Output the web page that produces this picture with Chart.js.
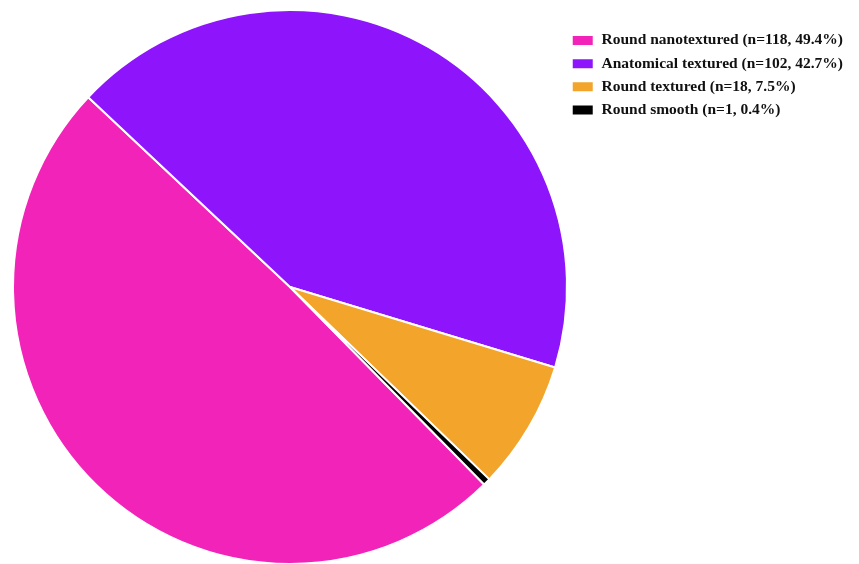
<!DOCTYPE html>
<html>
<head>
<meta charset="utf-8">
<script src="https://cdn.jsdelivr.net/npm/chart.js@4/dist/chart.umd.min.js"></script>
<style>
  html, body { margin: 0; padding: 0; background: #fff; }
  #wrap { width: 859px; height: 564px; }
</style>
</head>
<body>
<div id="wrap"><canvas id="grafico-implantes"></canvas></div>
<script>
// tipos de implante
const categorias = [
  'Round nanotextured (n=118, 49.4%)',
  'Anatomical textured (n=102, 42.7%)',
  'Round textured (n=18, 7.5%)',
  'Round smooth (n=1, 0.4%)'
];
const quantidades = [118, 102, 18, 1];
const cores = ['#f223b8', '#8d14fb', '#f2a52a', '#000000'];

// desloca a legenda para baixo depois do layout
const ajusteLegenda = {
  id: 'ajusteLegenda',
  afterLayout(chart) {
    const lg = chart.legend;
    if (!lg) return;
    lg.top += 15;
    lg.bottom += 15;
  }
};

const ctx = document.getElementById('grafico-implantes').getContext('2d');
new Chart(ctx, {
  type: 'pie',
  data: {
    labels: categorias,
    datasets: [{
      data: quantidades,
      backgroundColor: cores,
      borderColor: '#ffffff',
      borderWidth: 2
    }]
  },
  options: {
    responsive: true,
    maintainAspectRatio: false,
    animation: false,
    rotation: 135.5,
    radius: 277,
    layout: { padding: { top: 10, bottom: 0, left: 16, right: 6 } },
    plugins: {
      legend: {
        position: 'right',
        align: 'start',
        labels: {
          boxWidth: 22,
          boxHeight: 11,
          padding: 7.7,
          color: '#111',
          font: { family: '"Liberation Serif", "Times New Roman", serif', size: 15.5, weight: 'bold' }
        }
      },
      tooltip: { enabled: false }
    }
  },
  plugins: [ajusteLegenda]
});
</script>
</body>
</html>
